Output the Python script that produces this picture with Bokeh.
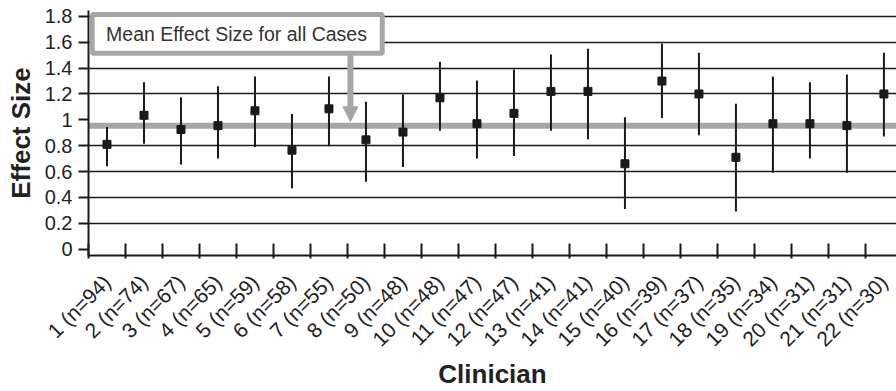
import math
from bokeh.plotting import figure
from bokeh.models import (Range1d, FixedTicker, Span, BoxAnnotation, Label, Arrow,
                          NormalHead, ColumnDataSource)
from bokeh.embed import file_html
from bokeh.resources import INLINE

# ---------------- data ----------------
clinicians = list(range(1, 23))
n_cases = [94, 74, 67, 65, 59, 58, 55, 50, 48, 48, 47, 47, 41, 41, 40, 39, 37, 35, 34, 31, 31, 30]
effect = [0.81, 1.035, 0.925, 0.955, 1.07, 0.765, 1.085, 0.845, 0.905, 1.17, 0.97,
          1.05, 1.22, 1.22, 0.66, 1.30, 1.20, 0.71, 0.97, 0.97, 0.955, 1.20]
upper = [0.945, 1.29, 1.175, 1.26, 1.335, 1.045, 1.335, 1.14, 1.195, 1.45, 1.305,
         1.39, 1.505, 1.55, 1.02, 1.59, 1.52, 1.125, 1.335, 1.29, 1.35, 1.52]
lower = [0.64, 0.815, 0.655, 0.70, 0.79, 0.47, 0.795, 0.52, 0.635, 0.915, 0.70,
         0.72, 0.915, 0.85, 0.31, 1.015, 0.88, 0.29, 0.59, 0.70, 0.59, 0.87]
mean_effect = 0.955
x_tick_labels = [f"{c} (n={n})" for c, n in zip(clinicians, n_cases)]
y_ticks = [0, 0.2, 0.4, 0.6, 0.8, 1.0, 1.2, 1.4, 1.6, 1.8]
y_tick_labels = ["0", "0.2", "0.4", "0.6", "0.8", "1", "1.2", "1.4", "1.6", "1.8"]
annotation_text = "Mean Effect Size for all Cases"

# ---------------- style ----------------
FONT = "Liberation Sans"
GRAY = "#a6a6a6"
INK = "#1a1a1a"

p = figure(width=896, height=391, x_range=Range1d(0.5, 22.34), y_range=Range1d(-0.05, 1.846),
           output_backend="svg", toolbar_location=None,
           min_border_left=88, min_border_right=0, min_border_top=10, min_border_bottom=135)
p.outline_line_color = None
p.background_fill_color = "white"
p.border_fill_color = "white"

# x axis
p.xaxis.ticker = FixedTicker(ticks=clinicians, minor_ticks=[c - 0.5 for c in clinicians] + [22.5])
p.xaxis.major_label_overrides = {c: lab for c, lab in zip(clinicians, x_tick_labels)}
p.xaxis.major_tick_in = 0
p.xaxis.major_tick_out = 0
p.xaxis.minor_tick_in = 12
p.xaxis.minor_tick_out = 3
p.xaxis.minor_tick_line_color = INK
p.xaxis.minor_tick_line_width = 2
p.xaxis.axis_line_color = INK
p.xaxis.axis_line_width = 2
p.xaxis.major_label_orientation = math.pi / 4
p.xaxis.major_label_standoff = 20
p.xaxis.major_label_text_font = FONT
p.xaxis.major_label_text_font_size = "21px"
p.xaxis.major_label_text_color = "#222222"
p.xaxis.axis_label = "Clinician"
p.xaxis.axis_label_text_font = FONT
p.xaxis.axis_label_text_font_style = "bold"
p.xaxis.axis_label_text_font_size = "26px"
p.xaxis.axis_label_text_color = "#222222"
p.xaxis.axis_label_standoff = -3

# y axis
p.yaxis.ticker = FixedTicker(ticks=y_ticks, minor_ticks=[])
p.yaxis.major_label_overrides = {t: lab for t, lab in zip(y_ticks, y_tick_labels)}
p.yaxis.major_tick_in = 0
p.yaxis.major_tick_out = 10
p.yaxis.major_tick_line_color = INK
p.yaxis.major_tick_line_width = 2
p.yaxis.axis_line_color = INK
p.yaxis.axis_line_width = 2
p.yaxis.major_label_standoff = 6
p.yaxis.major_label_text_font = FONT
p.yaxis.major_label_text_font_size = "20px"
p.yaxis.major_label_text_color = "#222222"
p.yaxis.axis_label = "Effect Size"
p.yaxis.axis_label_text_font = FONT
p.yaxis.axis_label_text_font_style = "bold"
p.yaxis.axis_label_text_font_size = "26px"
p.yaxis.axis_label_text_color = "#222222"
p.yaxis.axis_label_standoff = 6

# grid
p.xgrid.visible = False
p.ygrid.ticker = FixedTicker(ticks=[t for t in y_ticks if t not in (0, 1.0)])
p.ygrid.grid_line_color = INK
p.ygrid.grid_line_width = 1.5

# mean line
p.add_layout(Span(location=mean_effect, dimension="width", line_color=GRAY,
                  line_width=6, level="underlay"))

src = ColumnDataSource(dict(x=clinicians, y=effect, lo=lower, hi=upper))
p.segment(x0="x", y0="lo", x1="x", y1="hi", source=src, line_color=INK, line_width=2)
p.scatter(x="x", y="y", source=src, marker="square", size=8, fill_color=INK, line_color=INK)

# annotation box + arrow
p.add_layout(BoxAnnotation(left=0.6, right=8.44, top=1.815, bottom=1.515,
                           fill_color="white", fill_alpha=1.0,
                           line_color=GRAY, line_width=5, line_alpha=1.0))
p.add_layout(Label(x=4.5, y=1.665, text=annotation_text, text_font=FONT,
                   text_font_size="19.5px", text_color="#333333",
                   text_align="center", text_baseline="middle"))
p.add_layout(Arrow(end=NormalHead(size=15, fill_color=GRAY, line_color=GRAY),
                   x_start=7.58, y_start=1.50, x_end=7.58, y_end=0.985,
                   line_color=GRAY, line_width=6))

open("out.html", "w").write(file_html(p, INLINE))
